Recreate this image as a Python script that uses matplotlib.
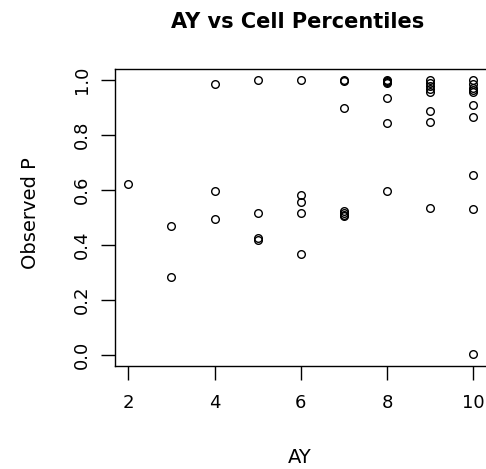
import matplotlib
matplotlib.use("Agg")
import matplotlib.pyplot as plt

plt.rcParams['font.family'] = ['DejaVu Sans']

# data (accident year vs observed percentile)
ay = [2,
      3, 3,
      4, 4, 4,
      5, 5, 5, 5,
      6, 6, 6, 6, 6,
      7, 7, 7, 7, 7, 7, 7,
      8, 8, 8, 8, 8, 8, 8,
      9, 9, 9, 9, 9, 9, 9, 9,
      10, 10, 10, 10, 10, 10, 10, 10, 10, 10]
observed_p = [0.62,
              0.47, 0.285,
              0.985, 0.597, 0.495,
              1.0, 0.516, 0.425, 0.42,
              1.0, 0.582, 0.558, 0.516, 0.368,
              1.0, 0.996, 0.899, 0.524, 0.515, 0.509, 0.505,
              1.0, 0.997, 0.993, 0.99, 0.934, 0.843, 0.597,
              1.0, 0.99, 0.978, 0.967, 0.958, 0.889, 0.849, 0.534,
              1.0, 0.985, 0.972, 0.962, 0.956, 0.909, 0.867, 0.655, 0.531, 0.004]

x_ticks = [2, 4, 6, 8, 10]
y_ticks = [0.0, 0.2, 0.4, 0.6, 0.8, 1.0]

fig = plt.figure(figsize=(4.86, 4.69), dpi=100)
ax = fig.add_axes([0.2356, 0.2196, 0.7665, 0.6333])

ax.plot(ay, observed_p, linestyle='none', marker='o', markersize=5.5,
        markerfacecolor='none', markeredgecolor='black', markeredgewidth=1.0)

ax.set_xlim(1.68, 10.32)
ax.set_ylim(-0.04, 1.04)
ax.set_xticks(x_ticks)
ax.set_xticklabels([str(v) for v in x_ticks])
ax.set_yticks(y_ticks)
ax.set_yticklabels(['%.1f' % v for v in y_ticks], rotation=90, va='center')

for s in ax.spines.values():
    s.set_linewidth(1.0)
ax.tick_params(axis='both', direction='out', length=10, width=1.0, labelsize=13)
ax.tick_params(axis='x', pad=10)
ax.tick_params(axis='y', pad=7)

fig.text(0.613, 1 - 22 / 469, 'AY vs Cell Percentiles', ha='center', va='center',
         fontsize=15, fontweight='bold')
fig.text(0.617, 1 - 457 / 469, 'AY', ha='center', va='center', fontsize=14)
fig.text(30 / 486, 1 - 213 / 469, 'Observed P', ha='center', va='center',
         rotation=90, fontsize=14)

fig.savefig('out.png', dpi=100)
